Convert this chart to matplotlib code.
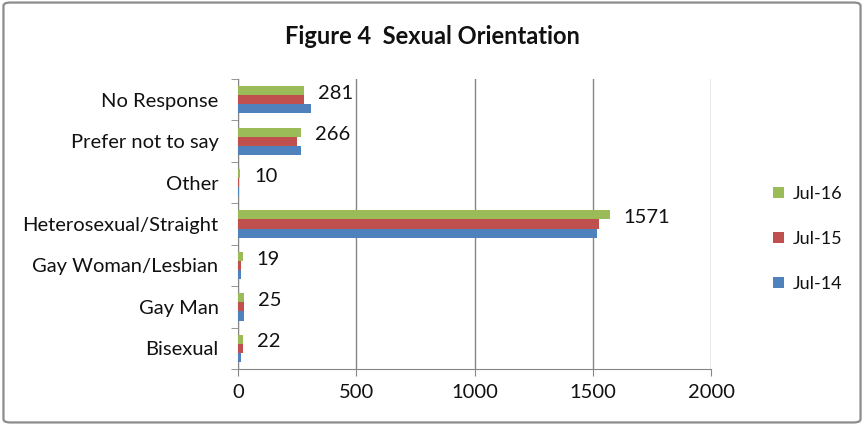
import matplotlib
matplotlib.use('Agg')
import matplotlib.pyplot as plt
from matplotlib.patches import FancyBboxPatch, Patch
import numpy as np

plt.rcParams['font.family'] = ['Lato', 'DejaVu Sans']

CATEGORIES = ['Bisexual', 'Gay Man', 'Gay Woman/Lesbian', 'Heterosexual/Straight',
              'Other', 'Prefer not to say', 'No Response']
JUL_14 = [14, 24, 14, 1517, 6, 265, 309]
JUL_15 = [22, 24, 14, 1528, 4, 251, 280]
JUL_16 = [22, 25, 19, 1571, 10, 266, 281]
SERIES = ['Jul-14', 'Jul-15', 'Jul-16']
COLORS = ['#4F81BD', '#C0504D', '#9BBB59']
X_TICKS = [0, 500, 1000, 1500, 2000]

GRID = '#868686'
TXT = '#111111'

fig = plt.figure(figsize=(8.64, 4.25), dpi=100)
fig.patches.append(FancyBboxPatch((0.004, 0.006), 0.992, 0.988, boxstyle='round,pad=0,rounding_size=0.008',
                                  transform=fig.transFigure, fill=False, edgecolor='#8c8c8c', linewidth=1.6))
ax = fig.add_axes([0.2755, 0.1318, 0.5475, 0.6822])

y = np.arange(len(CATEGORIES))
h = 0.22
for i, (vals, col) in enumerate(zip([JUL_14, JUL_15, JUL_16], COLORS)):
    ax.barh(y + (i - 1) * h, vals, height=h, color=col, zorder=3)

# labels only for the latest series
for yi, v in zip(y, JUL_16):
    ax.annotate(str(v), (v, yi + h), xytext=(10, -2), textcoords='offset points',
                va='center', ha='left', fontsize=14.5, color=TXT)

ax.set_xlim(0, 2000)
ax.set_ylim(-0.5, len(CATEGORIES) - 0.5)
ax.set_xticks(X_TICKS)
ax.set_yticks(y)
ax.set_yticklabels(CATEGORIES)
ax.set_yticks(np.arange(-0.5, len(CATEGORIES)), minor=True)
ax.tick_params(axis='y', which='major', length=0, pad=14, labelsize=14.5, labelcolor=TXT)
ax.tick_params(axis='y', which='minor', length=5, color=GRID, direction='out')
ax.tick_params(axis='x', length=5, color=GRID, pad=6, labelsize=14.5, labelcolor=TXT)
ax.grid(axis='x', color=GRID, linewidth=1, zorder=0)
for s in ['top', 'right']:
    ax.spines[s].set_visible(False)
for s in ['left', 'bottom']:
    ax.spines[s].set_color(GRID)

fig.text(0.5, 0.913, 'Figure 4  Sexual Orientation', ha='center', va='center',
         fontsize=17, fontweight='bold', color=TXT)

handles = [Patch(facecolor=c, label=l) for c, l in zip(COLORS[::-1], SERIES[::-1])]
fig.legend(handles=handles, loc='center left', bbox_to_anchor=(0.876, 0.438), frameon=False,
           fontsize=13, handlelength=0.6, handleheight=0.6, handletextpad=0.5, labelspacing=1.6,
           labelcolor=TXT)

fig.savefig('out.png', dpi=100)
